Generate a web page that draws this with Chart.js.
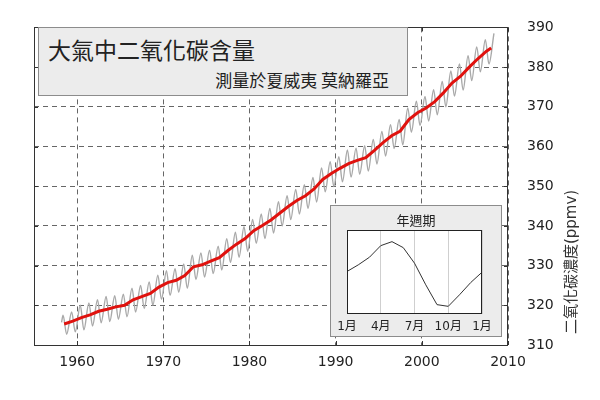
<!DOCTYPE html>
<html><head><meta charset="utf-8">
<script src="https://cdn.jsdelivr.net/npm/chart.js@4.4.0/dist/chart.umd.min.js"></script>
<style>
html,body{margin:0;padding:0;background:#fff;}
#wrap{position:relative;width:600px;height:400px;overflow:hidden;}
#main{position:absolute;left:0;top:0;}
#titleBox{position:absolute;left:38px;top:27px;width:370px;height:69px;box-sizing:border-box;border:1px solid #8c8c8c;background:#ececec;font-family:"Noto Sans CJK TC","Noto Sans CJK SC",sans-serif;color:#222;}
#t1{position:absolute;left:9px;top:6px;font-size:23px;line-height:30px;white-space:nowrap;}
#t2{position:absolute;right:18px;top:41px;font-size:17px;line-height:22px;white-space:nowrap;}
#insetBox{position:absolute;left:330px;top:205px;width:172px;height:132px;box-sizing:border-box;border:1px solid #8c8c8c;background:#ececec;}
#inset{position:absolute;left:0;top:0;}
</style></head><body>
<div id="wrap">
<canvas id="main" width="600" height="400"></canvas>
<div id="titleBox"><div id="t1">大氣中二氧化碳含量</div><div id="t2">測量於夏威夷 莫納羅亞</div></div>
<div id="insetBox"><canvas id="inset" width="170" height="130"></canvas></div>
</div>
<script>
// ---- data ----
const years = [1958,1959,1960,1961,1962,1963,1964,1965,1966,1967,1968,1969,1970,1971,1972,1973,1974,1975,1976,1977,1978,1979,1980,1981,1982,1983,1984,1985,1986,1987,1988,1989,1990,1991,1992,1993,1994,1995,1996,1997,1998,1999,2000,2001,2002,2003,2004,2005,2006,2007,2008];
// annual (running) mean, ppmv, centred mid-year
const trendPpm = [315.3,316.0,316.9,317.6,318.5,319.0,319.6,320.0,321.4,322.2,323.0,324.6,325.7,326.3,327.5,329.7,330.2,331.1,332.0,333.8,335.4,336.8,338.8,340.1,341.5,343.2,344.9,346.4,347.6,349.3,351.7,353.2,354.5,355.7,356.5,357.2,359.0,361.0,362.7,363.9,366.8,368.5,369.7,371.3,373.5,376.0,377.7,380.0,382.1,384.0,384.8];
const trendYears = [1958.5,1959.5,1960.5,1961.5,1962.5,1963.5,1964.5,1965.5,1966.5,1967.5,1968.5,1969.5,1970.5,1971.5,1972.5,1973.5,1974.5,1975.5,1976.5,1977.5,1978.5,1979.5,1980.5,1981.5,1982.5,1983.5,1984.5,1985.5,1986.5,1987.5,1988.5,1989.5,1990.5,1991.5,1992.5,1993.5,1994.5,1995.5,1996.5,1997.5,1998.5,1999.5,2000.5,2001.5,2002.5,2003.5,2004.5,2005.5,2006.5,2007.5,2008.05];
// monthly record: first observation, May maxima, October minima
const firstObs = {year:1958.2, ppm:315.7};
const mayPeakPpm = [317.5,318.3,320.0,320.6,321.4,322.2,322.4,322.8,324.3,325.0,325.9,327.6,328.7,329.2,330.4,332.6,333.2,333.9,334.9,336.8,338.4,339.8,341.6,343.0,344.4,346.1,347.6,349.2,350.4,352.2,354.6,356.2,357.4,359.1,359.6,360.2,361.8,363.8,365.5,366.8,369.7,371.4,372.6,374.3,376.4,379.0,380.8,382.9,385.1,386.9,388.5];
const octLowPpm = [312.7,313.3,313.8,314.8,315.6,315.9,316.5,317.1,318.3,319.2,320.0,321.5,322.5,323.3,324.3,326.5,327.1,328.0,328.9,330.8,332.1,333.6,335.6,336.8,338.2,340.0,341.6,343.0,344.4,346.0,348.6,349.9,351.1,352.3,353.0,353.8,355.6,357.6,359.5,360.4,363.6,365.3,366.4,368.0,370.0,372.7,374.2,376.6,378.8,380.8];
const xTicks = [1960,1970,1980,1990,2000,2010];
const yTicks = [310,320,330,340,350,360,370,380,390];
const yTitle = '二氧化碳濃度(ppmv)';
// inset: mean seasonal cycle (ppmv deviation), Jan..Jan
const cycleMonths = [0,1,2,3,4,5,6,7,8,9,10,11,12];
const cyclePpm = [0.05,0.68,1.41,2.51,2.89,2.32,0.84,-1.22,-3.11,-3.27,-2.17,-1.0,-0.02];
const insetTickMonths = [0,3,6,9,12];
const insetTickLabels = ['1月','4月','7月','10月','1月'];
const insetTitle = '年週期';

// ---- build tables ----
const trendPts = trendYears.map((x,i)=>({x, y:trendPpm[i]}));
const greyPts = [{x:firstObs.year, y:firstObs.ppm}];
years.forEach((yr,i)=>{
  greyPts.push({x:yr+0.37, y:mayPeakPpm[i]});
  if (i < octLowPpm.length) greyPts.push({x:yr+0.79, y:octLowPpm[i]});
});
const cyclePts = cycleMonths.map((m,i)=>({x:m, y:cyclePpm[i]}));

const tickFont = {family:'"DejaVu Sans", "Noto Sans CJK TC", sans-serif', size:14};

const framePlugin = {
  id:'frame',
  afterDraw(chart){
    const {ctx, chartArea:a, scales} = chart;
    ctx.save();
    ctx.strokeStyle = '#333'; ctx.lineWidth = 1;
    ctx.strokeRect(Math.round(a.left)+0.5, Math.round(a.top)+0.5, Math.round(a.right-a.left)-1, Math.round(a.bottom-a.top));
    ctx.beginPath();
    const L = 4;
    scales.x.ticks.forEach(t=>{
      const px = Math.round(scales.x.getPixelForValue(t.value))+0.5;
      ctx.moveTo(px, a.bottom); ctx.lineTo(px, a.bottom-L);
      ctx.moveTo(px, a.top); ctx.lineTo(px, a.top+L);
    });
    scales.y.ticks.forEach(t=>{
      const py = Math.round(scales.y.getPixelForValue(t.value))+0.5;
      ctx.moveTo(a.left, py); ctx.lineTo(a.left+L, py);
      ctx.moveTo(a.right, py); ctx.lineTo(a.right-L, py);
    });
    ctx.stroke();
    ctx.translate(572, 262);
    ctx.rotate(-Math.PI/2);
    ctx.font = '15px "DejaVu Sans", "Noto Sans CJK TC", sans-serif';
    ctx.fillStyle = '#333'; ctx.textAlign = 'center'; ctx.textBaseline = 'middle';
    ctx.fillText(yTitle, 0, 0);
    ctx.restore();
  }
};

new Chart(document.getElementById('main'), {
  type:'line',
  data:{datasets:[
    {label:'trend', data:trendPts, borderColor:'#e0120e', borderWidth:3, pointRadius:0, tension:0, fill:false},
    {label:'monthly', data:greyPts, borderColor:'#a9a9a9', borderWidth:1.4, pointRadius:0, cubicInterpolationMode:'monotone', fill:false}
  ]},
  options:{
    responsive:false, animation:false, devicePixelRatio:1,
    layout:{padding:{left:34, top:22, right:0, bottom:0}},
    plugins:{legend:{display:false}, tooltip:{enabled:false}},
    scales:{
      x:{type:'linear', position:'bottom', min:1955, max:2010,
        afterBuildTicks:s=>{ s.ticks = xTicks.map(v=>({value:v})); },
        afterFit:s=>{ s.height = 55; },
        grid:{color:'#666', lineWidth:1, drawTicks:false},
        border:{display:false, dash:[5,4]},
        ticks:{padding:9, color:'#222', font:tickFont, callback:v=>String(v)}
      },
      y:{type:'linear', position:'right', min:310, max:390,
        afterBuildTicks:s=>{ s.ticks = yTicks.map(v=>({value:v})); },
        afterFit:s=>{ s.width = 92; },
        grid:{color:'#666', lineWidth:1, drawTicks:false},
        border:{display:false, dash:[5,4]},
        ticks:{padding:19, color:'#222', font:tickFont, callback:v=>String(v)}
      }
    }
  },
  plugins:[framePlugin]
});

const insetPlugin = {
  id:'insetFrame',
  beforeDraw(chart){
    const {ctx, chartArea:a} = chart;
    ctx.save(); ctx.fillStyle = '#fff';
    ctx.fillRect(a.left, a.top, a.right-a.left, a.bottom-a.top);
    ctx.restore();
  },
  afterDraw(chart){
    const {ctx, chartArea:a} = chart;
    ctx.save();
    ctx.strokeStyle = '#222'; ctx.lineWidth = 1;
    ctx.strokeRect(Math.round(a.left)+0.5, Math.round(a.top)+0.5, Math.round(a.right-a.left)-1, Math.round(a.bottom-a.top)-1);
    ctx.font = '13px "Noto Sans CJK TC", sans-serif';
    ctx.fillStyle = '#222'; ctx.textAlign = 'center'; ctx.textBaseline = 'middle';
    ctx.fillText(insetTitle, chart.width/2, 14);
    ctx.restore();
  }
};

new Chart(document.getElementById('inset'), {
  type:'line',
  data:{datasets:[{label:'cycle', data:cyclePts, borderColor:'#333', borderWidth:1, pointRadius:0, tension:0, fill:false}]},
  options:{
    responsive:false, animation:false, devicePixelRatio:1,
    layout:{padding:{left:16, right:19, top:24, bottom:0}},
    plugins:{legend:{display:false}, tooltip:{enabled:false}},
    scales:{
      x:{type:'linear', min:0, max:12,
        afterBuildTicks:s=>{ s.ticks = insetTickMonths.map(v=>({value:v})); },
        afterFit:s=>{ s.height = 22; },
        grid:{color:'#cfcfcf', lineWidth:1, drawTicks:false},
        border:{display:false},
        ticks:{padding:6, color:'#222', font:{family:'"DejaVu Sans", "Noto Sans CJK TC", sans-serif', size:12}, callback:(v,i)=>insetTickLabels[i]}
      },
      y:{display:false, min:-4, max:4}
    }
  },
  plugins:[insetPlugin]
});
</script>
</body></html>
